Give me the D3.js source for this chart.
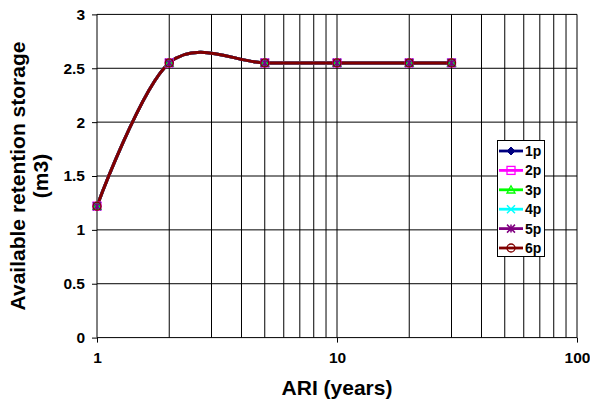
<!DOCTYPE html>
<html>
<head>
<meta charset="utf-8">
<script src="https://cdn.jsdelivr.net/npm/d3@7"></script>
<style>
  html, body { margin: 0; padding: 0; background: #fff; }
  svg { display: block; font-family: "Liberation Sans", Arial, sans-serif; font-weight: bold; }
</style>
</head>
<body>
<svg id="chart" width="590" height="401"></svg>
<script>
// ARI values (years) shared by every series
const ariYears = [1, 2, 5, 10, 20, 30];

// Available retention storage (m3) for each series
const storage1p = [1.22, 2.55, 2.55, 2.55, 2.55, 2.55];
const storage2p = [1.22, 2.55, 2.55, 2.55, 2.55, 2.55];
const storage3p = [1.22, 2.55, 2.55, 2.55, 2.55, 2.55];
const storage4p = [1.22, 2.55, 2.55, 2.55, 2.55, 2.55];
const storage5p = [1.22, 2.55, 2.55, 2.55, 2.55, 2.55];
const storage6p = [1.22, 2.55, 2.55, 2.55, 2.55, 2.55];

const seriesNames = ["1p", "2p", "3p", "4p", "5p", "6p"];
const seriesColors = ["#000080", "#FF00FF", "#00FF00", "#00FFFF", "#800080", "#800000"];
const seriesMarkers = ["diamond", "square", "triangle", "cross", "star", "circle"];

const yTicks = [0, 0.5, 1, 1.5, 2, 2.5, 3];
const xTickLabels = [1, 10, 100];
const xGrid = [2, 3, 4, 5, 6, 7, 8, 9, 10, 20, 30, 40, 50, 60, 70, 80, 90, 100];

const seriesValues = [storage1p, storage2p, storage3p, storage4p, storage5p, storage6p];
const series = seriesNames.map((name, i) => ({
  name,
  color: seriesColors[i],
  marker: seriesMarkers[i],
  points: ariYears.map((x, j) => ({ x, y: seriesValues[i][j] }))
}));

const svg = d3.select("#chart");

const x = d3.scaleLog().domain([1, 100]).range([97, 577]);
const y = d3.scaleLinear().domain([0, 3]).range([337.6, 14.4]);

// gridlines
const grid = svg.append("g").attr("stroke", "#000").attr("stroke-width", 1);
grid.selectAll("line.h").data(yTicks.filter(d => d > 0)).join("line")
  .attr("class", "h")
  .attr("x1", x(1)).attr("x2", x(100))
  .attr("y1", d => y(d)).attr("y2", d => y(d));
grid.selectAll("line.v").data(xGrid).join("line")
  .attr("class", "v")
  .attr("x1", d => x(d)).attr("x2", d => x(d))
  .attr("y1", y(0)).attr("y2", y(3));

// axes
const yAxis = svg.append("g")
  .attr("transform", `translate(${x(1)},0)`)
  .call(d3.axisLeft(y).tickValues(yTicks).tickSize(5).tickPadding(7).tickFormat(d3.format("")));
const xAxis = svg.append("g")
  .attr("transform", `translate(0,${y(0)})`)
  .call(d3.axisBottom(x).tickValues(xTickLabels).tickSize(5).tickPadding(9).tickFormat(d3.format("d")));

[yAxis, xAxis].forEach(a => {
  a.select(".domain").attr("stroke", "#000").attr("stroke-width", 1);
  a.selectAll(".tick line").attr("stroke", "#000");
  a.selectAll(".tick text")
    .attr("fill", "#000")
    .style("font-family", "'Liberation Sans', Arial, sans-serif")
    .style("font-weight", "bold")
    .style("font-size", "15.5px");
});
// keep the axis lines flat (no outer tick stubs)
yAxis.select(".domain").attr("d", `M0,${y(3)}V${y(0)}`);
xAxis.select(".domain").attr("d", `M${x(1)},0H${x(100)}`);

// axis titles
svg.append("text")
  .attr("x", x(10)).attr("y", 395)
  .attr("text-anchor", "middle")
  .style("font-size", "21px")
  .text("ARI (years)");

const yTitle = svg.append("text")
  .attr("transform", `translate(0,${(y(0) + y(3)) / 2}) rotate(-90)`)
  .attr("text-anchor", "middle")
  .style("font-size", "21px");
yTitle.append("tspan").attr("x", 0).attr("y", 25).text("Available retention storage");
yTitle.append("tspan").attr("x", 0).attr("y", 48).text("(m3)");

// marker drawing
function drawMarker(g, type, color, size) {
  const s = size / 2;
  switch (type) {
    case "diamond":
      g.append("path").attr("d", `M0,${-s}L${s},0L0,${s}L${-s},0Z`)
        .attr("fill", color).attr("stroke", color).attr("stroke-width", 1);
      break;
    case "square":
      g.append("rect").attr("x", -s).attr("y", -s).attr("width", size).attr("height", size)
        .attr("fill", "none").attr("stroke", color).attr("stroke-width", 1.3);
      break;
    case "triangle":
      g.append("path").attr("d", `M0,${-s}L${s},${s * 0.8}L${-s},${s * 0.8}Z`)
        .attr("fill", "none").attr("stroke", color).attr("stroke-width", 1.3);
      break;
    case "cross":
      g.append("path").attr("d", `M${-s},${-s}L${s},${s}M${s},${-s}L${-s},${s}`)
        .attr("stroke", color).attr("stroke-width", 1.5);
      break;
    case "star":
      g.append("path").attr("d", `M${-s},${-s}L${s},${s}M${s},${-s}L${-s},${s}M0,${-s}L0,${s}`)
        .attr("stroke", color).attr("stroke-width", 1.5);
      break;
    case "circle":
      g.append("circle").attr("r", s)
        .attr("fill", "none").attr("stroke", color).attr("stroke-width", 1.3);
      break;
  }
}

// smoothed lines
const line = d3.line()
  .x(d => x(d.x))
  .y(d => y(d.y))
  .curve(d3.curveCardinal.tension(0));

const lines = svg.append("g");
series.forEach(s => {
  lines.append("path")
    .datum(s.points)
    .attr("fill", "none")
    .attr("stroke", s.color)
    .attr("stroke-width", 3)
    .attr("d", line);
});

// markers on top of the lines
const markers = svg.append("g");
series.forEach(s => {
  s.points.forEach(p => {
    const g = markers.append("g").attr("transform", `translate(${x(p.x)},${y(p.y)})`);
    drawMarker(g, s.marker, s.color, 8);
  });
});

// legend
const legend = svg.append("g");
legend.append("rect")
  .attr("x", 497.5).attr("y", 140.5).attr("width", 47).attr("height", 116)
  .attr("fill", "#fff").attr("stroke", "#000").attr("stroke-width", 1);
series.forEach((s, i) => {
  const cy = 151 + i * 19.4;
  const row = legend.append("g");
  row.append("line")
    .attr("x1", 499).attr("x2", 523).attr("y1", cy).attr("y2", cy)
    .attr("stroke", s.color).attr("stroke-width", 2.8);
  drawMarker(row.append("g").attr("transform", `translate(511,${cy})`), s.marker, s.color, 8);
  row.append("text")
    .attr("x", 525).attr("y", cy + 5)
    .style("font-size", "14px")
    .text(s.name);
});
</script>
</body>
</html>
